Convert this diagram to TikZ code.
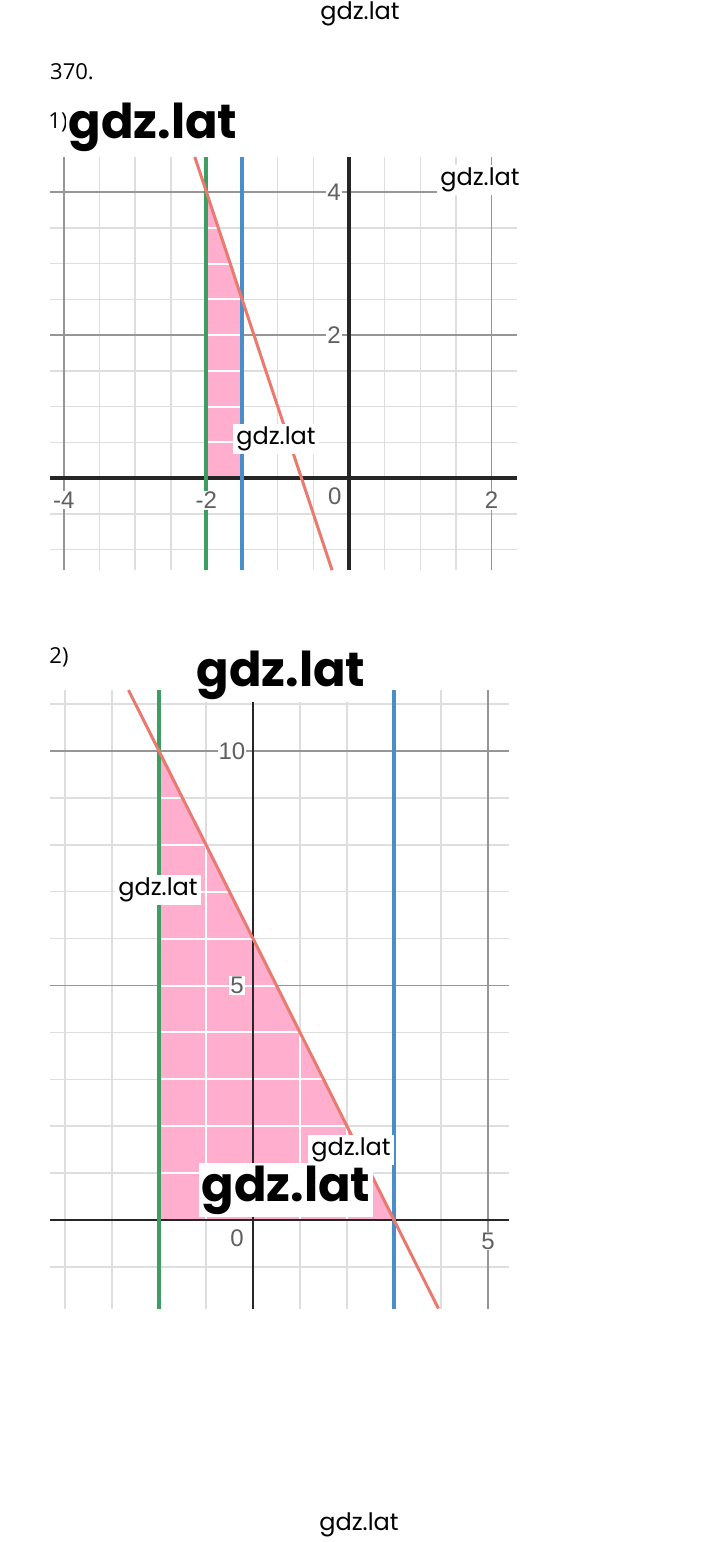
\documentclass[tikz,border=0pt]{standalone}
\usepackage{fontspec}
\setmainfont{Open Sans}
\newfontfamily\wmfont{Poppins}
\newfontfamily\tickfont{Liberation Sans}

\definecolor{pinkfill}{RGB}{255,174,206}
\definecolor{greenline}{RGB}{62,158,98}
\definecolor{blueline}{RGB}{72,142,200}
\definecolor{redline}{RGB}{234,122,112}
\definecolor{minorgray}{RGB}{222,222,222}
\definecolor{majorgray}{RGB}{150,150,150}
\definecolor{tickgray}{RGB}{95,95,95}

\tikzset{
  minorgrid/.style={minorgray, line width=0.75pt},
  majorgrid/.style={majorgray, line width=0.7pt},
  axisline/.style={black!85, line width=#1},
  bound/.style={line width=2pt},
  ticklabel/.style={tickgray, font=\tickfont\fontsize{12}{14}\selectfont, fill=white, inner sep=0.5pt},
  wmsmall/.style={fill=white, inner sep=1.5pt, font=\wmfont\fontsize{12}{14}\selectfont},
  wmbig/.style={fill=white, inner sep=1.5pt, font=\wmfont\bfseries\fontsize{24}{28}\selectfont},
  headlabel/.style={font=\fontsize{11}{13}\selectfont, inner sep=0pt}
}

\begin{document}
\begin{tikzpicture}[x=0.5pt, y=-0.5pt]
    \useasboundingbox (0,0) rectangle (720,1542);

    % Headings
    \node[headlabel] (task) at (72,72) {370.};
    \node[headlabel] (partone) at (58,122) {1)};
    \node[headlabel] (parttwo) at (59,657) {2)};

    % Graph 1
    \begin{scope}[shift={(349,478)}, x=35.65pt, y=35.75pt]
        % Grid
        \foreach \g in {-4,-3.5,...,2.1}
            \draw[minorgrid] (\g,-1.29) -- (\g,4.49);
        \foreach \g in {-1,-0.5,...,4.1}
            \draw[minorgrid] (-4.19,\g) -- (2.36,\g);
        \foreach \g in {-4,-2,2}
            \draw[majorgrid] (\g,-1.29) -- (\g,4.49);
        \foreach \g in {2,4}
            \draw[majorgrid] (-4.19,\g) -- (2.36,\g);

        % Solution region
        \fill[pinkfill] (-2,0) -- (-2,4) -- (-1.5,2.5) -- (-1.5,0) -- cycle;
        \begin{scope}
            \clip (-2,0) -- (-2,4) -- (-1.5,2.5) -- (-1.5,0) -- cycle;
            \foreach \g in {0.5,1,...,4.1}
                \draw[white, line width=1pt] (-2,\g) -- (-1.5,\g);
        \end{scope}

        % Axes
        \draw[axisline=2pt] (-4.19,0) -- (2.36,0);
        \draw[axisline=2pt] (0,-1.29) -- (0,4.49);

        % Boundary lines
        \draw[bound, greenline] (-2,-1.29) -- (-2,4.49);
        \draw[bound, blueline] (-1.5,-1.29) -- (-1.5,4.49);
        \draw[redline, line width=1.5pt] (-2.163,4.49) -- (-0.237,-1.29);

        % Tick labels
        \node[ticklabel] (ya) at (-0.21,4) {4};
        \node[ticklabel] (yb) at (-0.21,2) {2};
        \node[ticklabel] (xo) at (-0.2,-0.25) {0};
        \node[ticklabel] (xa) at (-4,-0.31) {-4};
        \node[ticklabel] (xb) at (-2,-0.31) {-2};
        \node[ticklabel] (xc) at (2,-0.31) {2};
    \end{scope}

    % Graph 2
    \begin{scope}[shift={(253,1220)}, x=23.5pt, y=23.45pt]
        % Grid
        \foreach \g in {-4,...,5}
            \draw[minorgrid] (\g,-1.89) -- (\g,11.3);
        \foreach \g in {-1,...,11}
            \draw[minorgrid] (-4.32,\g) -- (5.45,\g);
        \draw[majorgrid] (5,-1.89) -- (5,11.3);
        \foreach \g in {5,10}
            \draw[majorgrid] (-4.32,\g) -- (5.45,\g);

        % Solution region
        \fill[pinkfill] (-2,0) -- (-2,10) -- (3,0) -- cycle;
        \begin{scope}
            \clip (-2,0) -- (-2,10) -- (3,0) -- cycle;
            \foreach \g in {-1,...,2}
                \draw[white, line width=1pt] (\g,0) -- (\g,10);
            \foreach \g in {1,...,9}
                \draw[white, line width=1pt] (-2,\g) -- (3,\g);
        \end{scope}

        % Axes
        \draw[axisline=1.3pt] (-4.32,0) -- (5.45,0);
        \draw[axisline=1.3pt] (0,-1.89) -- (0,11.07);

        % Boundary lines
        \draw[bound, greenline] (-2,-1.89) -- (-2,11.3);
        \draw[bound, blueline] (3,-1.89) -- (3,11.3);
        \draw[redline, line width=1.5pt] (-2.65,11.3) -- (3.945,-1.89);

        % Tick labels
        \node[ticklabel] (yten) at (-0.45,10) {10};
        \node[ticklabel] (yfive) at (-0.34,5) {5};
        \node[ticklabel] (xzero) at (-0.34,-0.38) {0};
        \node[ticklabel] (xfive) at (5,-0.45) {5};
    \end{scope}

    % Watermarks
    \node[wmsmall] (wmtop) at (360,14) {gdz.lat};
    \node[wmbig] (wmbigone) at (153,127) {gdz.lat};
    \node[wmsmall] (wmright) at (480,180) {gdz.lat};
    \node[wmsmall] (wmmidone) at (276,439) {gdz.lat};
    \node[wmbig] (wmbigtwo) at (281,675) {gdz.lat};
    \node[wmsmall] (wmleft) at (158,890) {gdz.lat};
    \node[wmsmall] (wmmidtwo) at (351,1150) {gdz.lat};
    \node[wmbig] (wmbigthree) at (286,1190) {gdz.lat};
    \node[wmsmall] (wmbottom) at (359,1525) {gdz.lat};
\end{tikzpicture}
\end{document}
